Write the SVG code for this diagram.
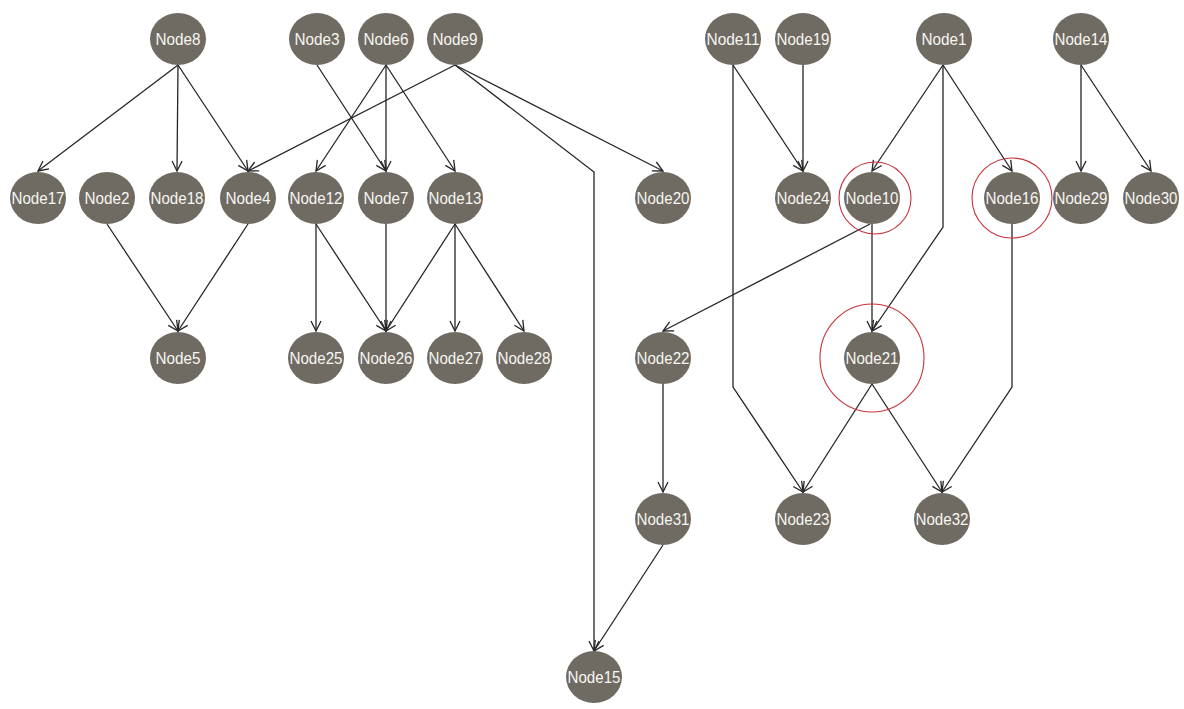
<svg xmlns="http://www.w3.org/2000/svg" width="1184" height="709" viewBox="0 0 1184 709">
<style>
.n ellipse{fill:#6f6b63;}
.n text{font-family:"Liberation Sans",Arial,sans-serif;font-size:17px;fill:#f6f6f2;text-anchor:middle;}
.e line,.e polyline{stroke:#262626;stroke-width:1.3;fill:none;marker-end:url(#ah);}
.ring{fill:none;stroke:#c8323a;stroke-width:1.1;}
</style>
<defs>
<marker id="ah" viewBox="0 0 12 12" refX="11" refY="6" markerWidth="12" markerHeight="12" markerUnits="userSpaceOnUse" orient="auto">
<path d="M1,1 L11,6 L1,11" fill="none" stroke="#262626" stroke-width="1.3"/>
</marker>
</defs>
<rect width="1184" height="709" fill="#ffffff"/>
<g id="connectors" class="e">
<line x1="178" y1="65" x2="38" y2="171"/>
<line x1="178" y1="65" x2="177" y2="171"/>
<line x1="178" y1="65" x2="248" y2="171"/>
<line x1="455" y1="65" x2="248" y2="171"/>
<line x1="317" y1="65" x2="386" y2="171"/>
<line x1="386" y1="65" x2="316" y2="171"/>
<line x1="386" y1="65" x2="386" y2="171"/>
<line x1="386" y1="65" x2="455" y2="171"/>
<line x1="455" y1="65" x2="663" y2="171"/>
<polyline points="455,65 594,172 594,651"/>
<line x1="107" y1="224" x2="178" y2="331"/>
<line x1="248" y1="224" x2="178" y2="331"/>
<line x1="316" y1="224" x2="316" y2="331"/>
<line x1="316" y1="224" x2="386" y2="331"/>
<line x1="386" y1="224" x2="386" y2="331"/>
<line x1="455" y1="224" x2="386" y2="331"/>
<line x1="455" y1="224" x2="455" y2="331"/>
<line x1="455" y1="224" x2="524" y2="331"/>
<line x1="733" y1="65" x2="803" y2="171"/>
<polyline points="733,65 733,387 803,492"/>
<line x1="803" y1="65" x2="803" y2="171"/>
<line x1="943" y1="65" x2="872" y2="171"/>
<line x1="943" y1="65" x2="1012" y2="171"/>
<polyline points="943,65 943,227 872,331"/>
<line x1="1081" y1="65" x2="1081" y2="171"/>
<line x1="1081" y1="65" x2="1151" y2="171"/>
<line x1="870" y1="224" x2="663" y2="331"/>
<line x1="872" y1="224" x2="872" y2="331"/>
<polyline points="1012,224 1012,387 942,492"/>
<line x1="872" y1="384" x2="803" y2="492"/>
<line x1="872" y1="384" x2="942" y2="492"/>
<line x1="663" y1="384" x2="663" y2="492"/>
<line x1="663" y1="545" x2="594" y2="651"/>
</g>
<circle class="ring" cx="875" cy="198" r="36"/>
<circle class="ring" cx="1012" cy="198" r="40"/>
<ellipse class="ring" cx="872" cy="358" rx="52" ry="54"/>
<g id="Node8" class="n"><ellipse cx="178" cy="39" rx="28" ry="26"/><text x="178" y="45" textLength="45" lengthAdjust="spacingAndGlyphs">Node8</text></g>
<g id="Node3" class="n"><ellipse cx="317" cy="39" rx="28" ry="26"/><text x="317" y="45" textLength="45" lengthAdjust="spacingAndGlyphs">Node3</text></g>
<g id="Node6" class="n"><ellipse cx="386" cy="39" rx="28" ry="26"/><text x="386" y="45" textLength="45" lengthAdjust="spacingAndGlyphs">Node6</text></g>
<g id="Node9" class="n"><ellipse cx="455" cy="39" rx="28" ry="26"/><text x="455" y="45" textLength="45" lengthAdjust="spacingAndGlyphs">Node9</text></g>
<g id="Node11" class="n"><ellipse cx="733" cy="39" rx="28" ry="26"/><text x="733" y="45" textLength="53" lengthAdjust="spacingAndGlyphs">Node11</text></g>
<g id="Node19" class="n"><ellipse cx="803" cy="39" rx="28" ry="26"/><text x="803" y="45" textLength="53" lengthAdjust="spacingAndGlyphs">Node19</text></g>
<g id="Node1" class="n"><ellipse cx="944" cy="39" rx="28" ry="26"/><text x="944" y="45" textLength="45" lengthAdjust="spacingAndGlyphs">Node1</text></g>
<g id="Node14" class="n"><ellipse cx="1081" cy="39" rx="28" ry="26"/><text x="1081" y="45" textLength="53" lengthAdjust="spacingAndGlyphs">Node14</text></g>
<g id="Node17" class="n"><ellipse cx="38" cy="198" rx="28" ry="26"/><text x="38" y="204" textLength="53" lengthAdjust="spacingAndGlyphs">Node17</text></g>
<g id="Node2" class="n"><ellipse cx="107" cy="198" rx="28" ry="26"/><text x="107" y="204" textLength="45" lengthAdjust="spacingAndGlyphs">Node2</text></g>
<g id="Node18" class="n"><ellipse cx="177" cy="198" rx="28" ry="26"/><text x="177" y="204" textLength="53" lengthAdjust="spacingAndGlyphs">Node18</text></g>
<g id="Node4" class="n"><ellipse cx="248" cy="198" rx="28" ry="26"/><text x="248" y="204" textLength="45" lengthAdjust="spacingAndGlyphs">Node4</text></g>
<g id="Node12" class="n"><ellipse cx="316" cy="198" rx="28" ry="26"/><text x="316" y="204" textLength="53" lengthAdjust="spacingAndGlyphs">Node12</text></g>
<g id="Node7" class="n"><ellipse cx="386" cy="198" rx="28" ry="26"/><text x="386" y="204" textLength="45" lengthAdjust="spacingAndGlyphs">Node7</text></g>
<g id="Node13" class="n"><ellipse cx="455" cy="198" rx="28" ry="26"/><text x="455" y="204" textLength="53" lengthAdjust="spacingAndGlyphs">Node13</text></g>
<g id="Node20" class="n"><ellipse cx="663" cy="198" rx="28" ry="26"/><text x="663" y="204" textLength="53" lengthAdjust="spacingAndGlyphs">Node20</text></g>
<g id="Node24" class="n"><ellipse cx="803" cy="198" rx="28" ry="26"/><text x="803" y="204" textLength="53" lengthAdjust="spacingAndGlyphs">Node24</text></g>
<g id="Node10" class="n"><ellipse cx="872" cy="198" rx="28" ry="26"/><text x="872" y="204" textLength="53" lengthAdjust="spacingAndGlyphs">Node10</text></g>
<g id="Node16" class="n"><ellipse cx="1012" cy="198" rx="28" ry="26"/><text x="1012" y="204" textLength="53" lengthAdjust="spacingAndGlyphs">Node16</text></g>
<g id="Node29" class="n"><ellipse cx="1081" cy="198" rx="28" ry="26"/><text x="1081" y="204" textLength="53" lengthAdjust="spacingAndGlyphs">Node29</text></g>
<g id="Node30" class="n"><ellipse cx="1151" cy="198" rx="28" ry="26"/><text x="1151" y="204" textLength="53" lengthAdjust="spacingAndGlyphs">Node30</text></g>
<g id="Node5" class="n"><ellipse cx="178" cy="358" rx="28" ry="26"/><text x="178" y="364" textLength="45" lengthAdjust="spacingAndGlyphs">Node5</text></g>
<g id="Node25" class="n"><ellipse cx="316" cy="358" rx="28" ry="26"/><text x="316" y="364" textLength="53" lengthAdjust="spacingAndGlyphs">Node25</text></g>
<g id="Node26" class="n"><ellipse cx="386" cy="358" rx="28" ry="26"/><text x="386" y="364" textLength="53" lengthAdjust="spacingAndGlyphs">Node26</text></g>
<g id="Node27" class="n"><ellipse cx="455" cy="358" rx="28" ry="26"/><text x="455" y="364" textLength="53" lengthAdjust="spacingAndGlyphs">Node27</text></g>
<g id="Node28" class="n"><ellipse cx="524" cy="358" rx="28" ry="26"/><text x="524" y="364" textLength="53" lengthAdjust="spacingAndGlyphs">Node28</text></g>
<g id="Node22" class="n"><ellipse cx="663" cy="358" rx="28" ry="26"/><text x="663" y="364" textLength="53" lengthAdjust="spacingAndGlyphs">Node22</text></g>
<g id="Node21" class="n"><ellipse cx="872" cy="358" rx="28" ry="26"/><text x="872" y="364" textLength="53" lengthAdjust="spacingAndGlyphs">Node21</text></g>
<g id="Node31" class="n"><ellipse cx="663" cy="519" rx="28" ry="26"/><text x="663" y="525" textLength="53" lengthAdjust="spacingAndGlyphs">Node31</text></g>
<g id="Node23" class="n"><ellipse cx="803" cy="519" rx="28" ry="26"/><text x="803" y="525" textLength="53" lengthAdjust="spacingAndGlyphs">Node23</text></g>
<g id="Node32" class="n"><ellipse cx="942" cy="519" rx="28" ry="26"/><text x="942" y="525" textLength="53" lengthAdjust="spacingAndGlyphs">Node32</text></g>
<g id="Node15" class="n"><ellipse cx="594" cy="677" rx="28" ry="26"/><text x="594" y="683" textLength="53" lengthAdjust="spacingAndGlyphs">Node15</text></g>
</svg>
